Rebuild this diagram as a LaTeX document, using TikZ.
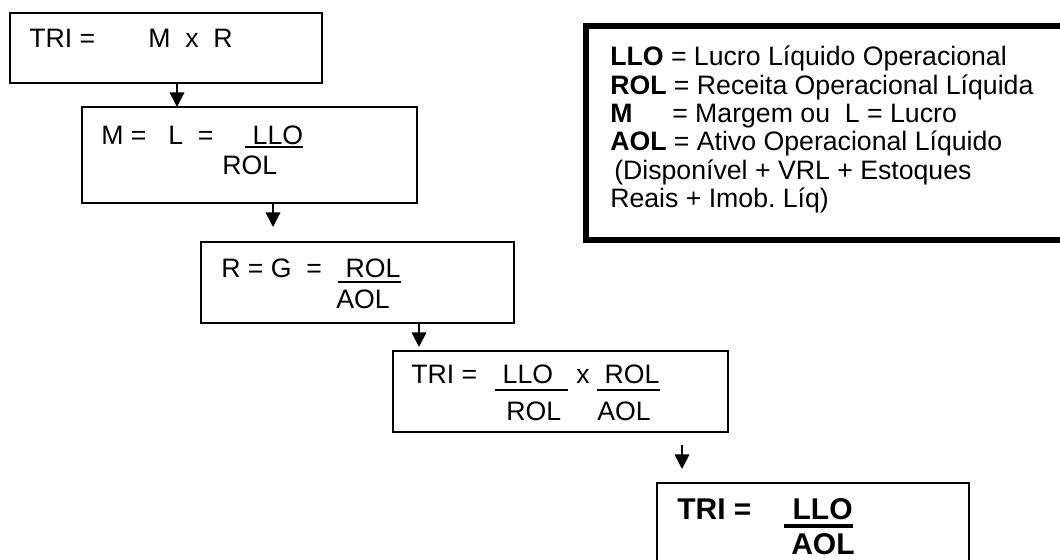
\documentclass[tikz,border=0pt]{standalone}
\usepackage{fontspec}
\setmainfont{Liberation Sans}
\usetikzlibrary{arrows.meta,fit}
\frenchspacing
\newcommand\fsr{\fontsize{20}{21.2}\selectfont}
\newcommand\fsb{\fontsize{22.5}{24}\selectfont\bfseries}
\newcommand\ulr[3]{\setbox0\hbox{#3}\rlap{\rule[-#1]{\wd0}{#2}}\box0}
\begin{document}
\begin{tikzpicture}[x=0.75pt,y=-0.75pt,
  box/.style={draw, line width=1.3pt, inner sep=0pt},
  legbox/.style={draw, line width=3.8pt, inner sep=0pt},
  txt/.style={anchor=base west, inner sep=0pt, font=\fsr},
  btxt/.style={anchor=base west, inner sep=0pt, font=\fsb},
  arr/.style={line width=1.3pt, -{Triangle[length=11pt,width=11pt]}}]
\clip (0,0) rectangle (1060,560);
\fill[white] (0,0) rectangle (1060,560);
% box corners
\coordinate (b1a) at (10,13);    \coordinate (b1b) at (321.7,82.7);
\coordinate (b2a) at (82,107);   \coordinate (b2b) at (417,203);
\coordinate (b3a) at (201,242);  \coordinate (b3b) at (514,323);
\coordinate (b4a) at (393,351);  \coordinate (b4b) at (728,432);
\coordinate (b5a) at (657,483);  \coordinate (b5b) at (969,600);
\coordinate (lga) at (586,26);   \coordinate (lgb) at (1085,240);
\node[box, fit=(b1a)(b1b)] (b1) {};
\node[box, fit=(b2a)(b2b)] (b2) {};
\node[box, fit=(b3a)(b3b)] (b3) {};
\node[box, fit=(b4a)(b4b)] (b4) {};
\node[box, fit=(b5a)(b5b)] (b5) {};
\node[legbox, fit=(lga)(lgb)] (lg) {};
% texts box 1
\node[txt] (t1a) at (29,48) {TRI =};
\node[txt] (t1b) at (148,48) {M\ \ x\ \ R};
% box 2
\node[txt] (t2a) at (101,144) {M =};
\node[txt] (t2b) at (168,144) {L\ \ =};
\node[txt] (t2c) at (245,144) {\ulr{3pt}{1.8pt}{\ LLO}};
\node[txt] (t2d) at (222,174) {ROL};
% box 3
\node[txt] (t3a) at (221,277) {R = G\ \ =};
\node[txt] (t3b) at (338,277) {\ulr{4.5pt}{1.8pt}{\ ROL}};
\node[txt] (t3c) at (336,308) {AOL};
% box 4
\node[txt] (t4a) at (411,383) {TRI =};
\node[txt] (t4b) at (495,383) {\ulr{6pt}{1.8pt}{\ LLO\ \ }};
\node[txt] (t4c) at (576,383) {x};
\node[txt] (t4d) at (597,383) {\ulr{6pt}{1.8pt}{\ ROL}};
\node[txt] (t4e) at (506,420) {ROL};
\node[txt] (t4f) at (597,420) {AOL};
% box 5
\node[btxt] (t5a) at (677,519) {TRI =};
\node[btxt] (t5b) at (784,519) {\ulr{6.75pt}{3pt}{\ LLO}};
\node[btxt] (t5c) at (791,554) {AOL};
% legend
\node[txt] (leg) at (610,66) {\parbox[t]{450pt}{\raggedright
\textbf{LLO} = Lucro Líquido Operacional\\
\textbf{ROL} = Receita Operacional Líquida\\
\makebox[46.5pt][l]{\textbf{M}}= Margem ou\ \ L = Lucro\\
\textbf{AOL} = Ativo Operacional Líquido\\
\hspace*{3pt}(Disponível + VRL + Estoques\\
Reais + Imob. Líq)}};
% arrows
\coordinate (e1) at (177,107);
\coordinate (e2) at (273,227);
\coordinate (e3) at (419,347);
\coordinate (s4) at (682,445);
\coordinate (e4) at (682,469);
\draw[arr] (b1.south -| e1) -- (e1);
\draw[arr] (b2.south -| e2) -- (e2);
\draw[arr] (b3.south -| e3) -- (e3);
\draw[arr] (s4) -- (e4);
\end{tikzpicture}
\end{document}
